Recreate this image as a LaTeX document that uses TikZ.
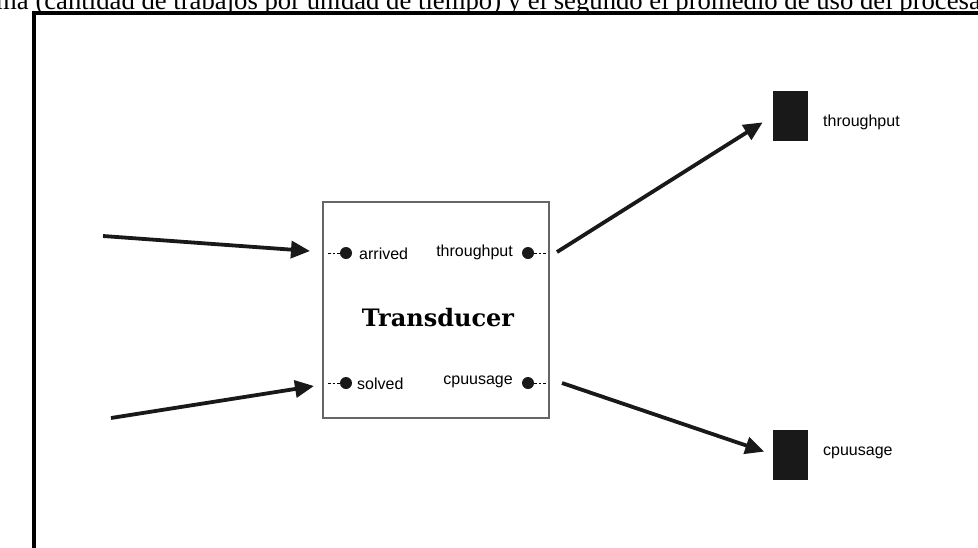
\documentclass[tikz,border=0pt]{standalone}
\usepackage{fontspec}
\setmainfont{Liberation Serif}
\newfontfamily\labelfont{Liberation Sans}
\newfontfamily\titlefont{DejaVu Serif}
\usetikzlibrary{arrows.meta}
\begin{document}
\begin{tikzpicture}[x=1pt,y=-1pt,
  flow/.style={line width=3.8pt,-{Triangle[length=19pt,width=17pt]},color=black!90},
  port/.style={circle,fill=black!90,inner sep=0pt,minimum size=12pt},
  lead/.style={line width=0.9pt,dash pattern=on 2.5pt off 2pt},
  plabel/.style={font=\labelfont\fontsize{16}{18}\selectfont,inner sep=0pt},
  sink/.style={fill=black!90,draw=none,minimum width=35pt,minimum height=50pt,inner sep=0pt},
  frameline/.style={line width=3.5pt,line cap=rect}]
\useasboundingbox (0,0) rectangle (978,547);

% running text above the frame
\node[anchor=base west,inner sep=0pt,font=\fontsize{26.7}{30}\selectfont] (caption) at (-4,9)
  {ma (cantidad de trabajos por unidad de tiempo) y el segundo el promedio de uso del procesador};

% frame
\draw[frameline] (34,13) -- (990,13);
\draw[frameline] (34,13) -- (34,560);

% transducer block
\node[draw=black!60,line width=1.1pt,minimum width=226pt,minimum height=216pt,inner sep=0pt] (box) at (436,310) {};
\node[font=\titlefont\bfseries\fontsize{24}{26}\selectfont,inner sep=0pt] (title) at (438,318) {Transducer};

% ports
\node[port] (arr) at (346,253) {};
\node[port] (sol) at (346,383) {};
\node[port] (thr) at (528,253) {};
\node[port] (cpu) at (528,383) {};
\coordinate (arrL) at (328,253);
\coordinate (solL) at (328,383);
\coordinate (thrR) at (546,253);
\coordinate (cpuR) at (546,383);
\draw[lead] (arrL) -- (arr);
\draw[lead] (solL) -- (sol);
\draw[lead] (thr) -- (thrR);
\draw[lead] (cpu) -- (cpuR);
\node[plabel,anchor=west] (arrlab) at (359,254) {arrived};
\node[plabel,anchor=west] (sollab) at (357,384) {solved};
\node[plabel,anchor=east] (thrlab) at (513,252) {throughput};
\node[plabel,anchor=east] (cpulab) at (513,382) {cpuusage};

% input flows
\coordinate (in1) at (103,236);
\coordinate (in2) at (111,418);
\coordinate (in1tip) at (310,251);
\coordinate (in2tip) at (314,386);
\draw[flow] (in1) -- (in1tip);
\draw[flow] (in2) -- (in2tip);

% output sinks
\node[sink] (sinkthr) at (790.5,116) {};
\node[sink] (sinkcpu) at (790.5,454.5) {};
\node[plabel,anchor=west] (sthrlab) at (823,122) {throughput};
\node[plabel,anchor=west] (scpulab) at (823,453) {cpuusage};

% output flows
\coordinate (out1) at (557,252);
\coordinate (out2) at (562,383);
\draw[flow,shorten >=12pt] (out1) -- (sinkthr.west);
\draw[flow,shorten >=9pt] (out2) -- (sinkcpu.west);
\end{tikzpicture}
\end{document}
